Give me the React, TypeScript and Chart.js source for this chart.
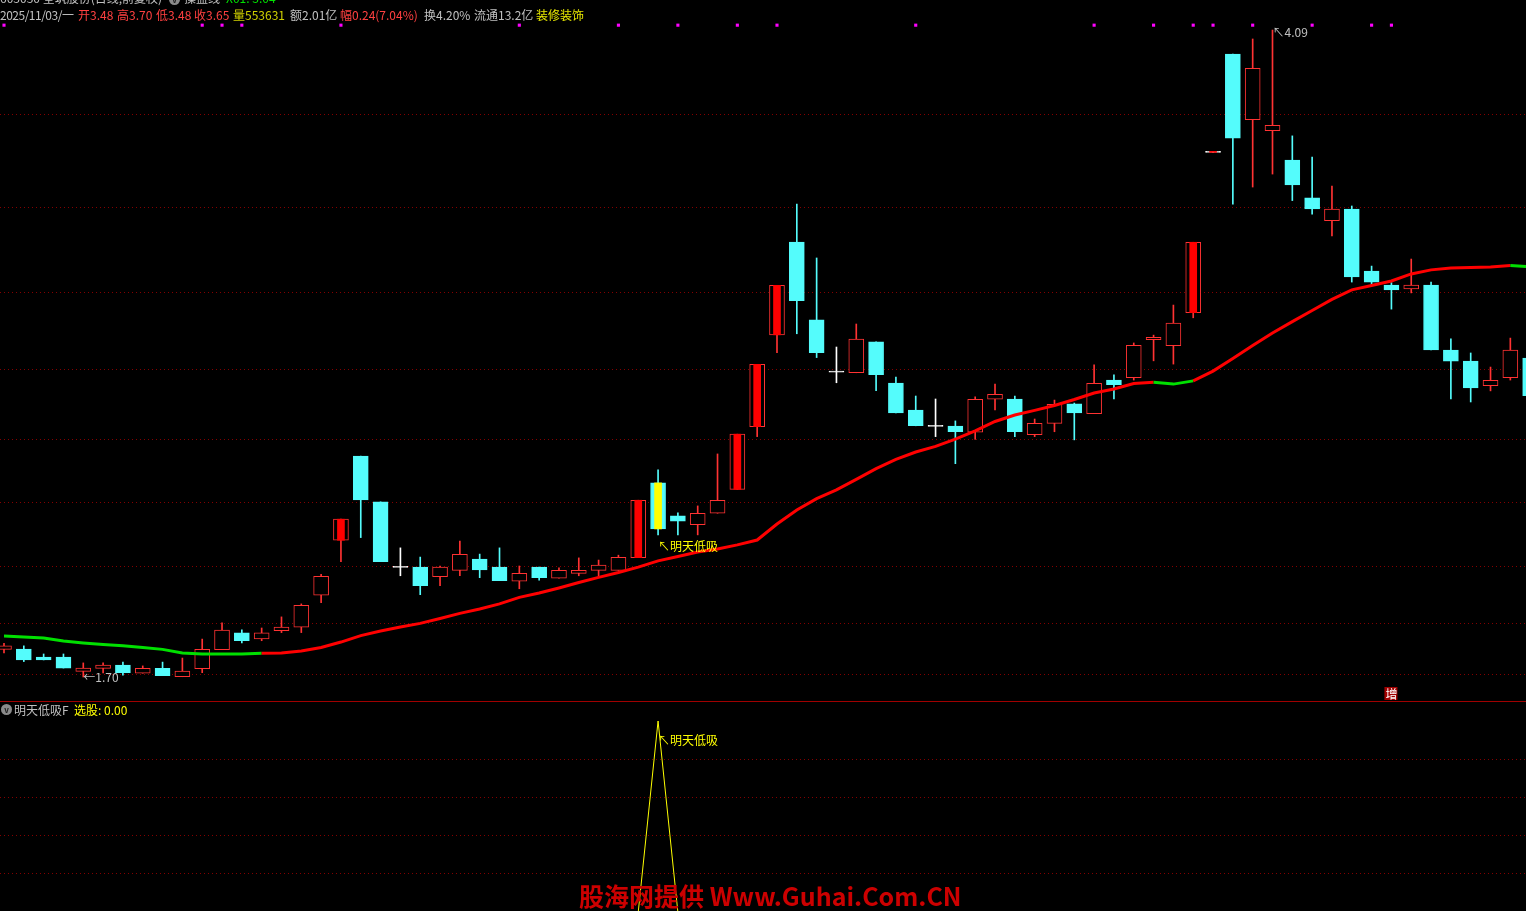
import React, { useEffect, useRef } from "react";
import { Chart, registerables } from "chart.js";

Chart.register(...registerables);

// ---------- data ----------
const OPEN = [
  1.802, 1.803, 1.774, 1.774, 1.721, 1.732, 1.744, 1.714, 1.732, 1.701,
  1.731, 1.801, 1.863, 1.841, 1.871, 1.884, 2.002, 2.205, 2.516, 2.347,
  2.105, 2.106, 2.071, 2.094, 2.136, 2.106, 2.054, 2.106, 2.065, 2.083,
  2.094, 2.094, 2.141, 2.417, 2.295, 2.263, 2.305, 2.393, 2.625, 2.964,
  3.307, 3.019, 2.826, 2.824, 2.938, 2.786, 2.686, 2.626, 2.627, 2.604,
  2.726, 2.727, 2.595, 2.637, 2.709, 2.673, 2.797, 2.806, 2.946, 2.924,
  3.046, 3.638, 4.001, 3.759, 3.718, 3.610, 3.470, 3.386, 3.429, 3.200,
  3.148, 3.134, 3.148, 2.908, 2.867, 2.776, 2.806, 2.878,
];
const HIGH = [
  1.824, 1.815, 1.785, 1.785, 1.752, 1.752, 1.755, 1.741, 1.755, 1.770,
  1.840, 1.900, 1.874, 1.881, 1.922, 1.970, 2.079, 2.283, 2.516, 2.347,
  2.177, 2.143, 2.110, 2.202, 2.154, 2.177, 2.110, 2.106, 2.103, 2.140,
  2.132, 2.150, 2.353, 2.465, 2.306, 2.332, 2.524, 2.597, 2.855, 3.147,
  3.447, 3.248, 2.919, 3.004, 2.938, 2.808, 2.738, 2.727, 2.646, 2.735,
  2.782, 2.738, 2.653, 2.723, 2.712, 2.853, 2.816, 2.934, 2.963, 3.074,
  3.306, 3.638, 4.001, 4.057, 4.090, 3.699, 3.621, 3.514, 3.440, 3.218,
  3.157, 3.244, 3.159, 2.949, 2.897, 2.845, 2.952, 2.878,
];
const LOW = [
  1.789, 1.757, 1.763, 1.733, 1.700, 1.715, 1.707, 1.714, 1.705, 1.701,
  1.716, 1.801, 1.826, 1.834, 1.864, 1.864, 1.975, 2.126, 2.215, 2.126,
  2.074, 2.004, 2.037, 2.074, 2.067, 2.056, 2.026, 2.058, 2.065, 2.074,
  2.074, 2.094, 2.141, 2.225, 2.225, 2.225, 2.305, 2.393, 2.588, 2.898,
  2.968, 2.880, 2.787, 2.824, 2.758, 2.676, 2.628, 2.588, 2.488, 2.578,
  2.687, 2.588, 2.588, 2.606, 2.576, 2.673, 2.727, 2.797, 2.868, 2.856,
  3.027, 3.638, 3.447, 3.510, 3.558, 3.460, 3.410, 3.329, 3.159, 3.148,
  3.059, 3.119, 2.908, 2.727, 2.716, 2.757, 2.797, 2.723,
];
const CLOSE = [
  1.815, 1.763, 1.763, 1.733, 1.733, 1.744, 1.716, 1.732, 1.705, 1.722,
  1.802, 1.873, 1.834, 1.863, 1.884, 1.965, 2.072, 2.283, 2.354, 2.126,
  2.105, 2.037, 2.106, 2.153, 2.096, 2.056, 2.083, 2.067, 2.094, 2.094,
  2.113, 2.142, 2.353, 2.247, 2.276, 2.305, 2.353, 2.597, 2.855, 3.147,
  3.090, 2.898, 2.826, 2.948, 2.817, 2.676, 2.628, 2.626, 2.606, 2.726,
  2.744, 2.606, 2.637, 2.707, 2.676, 2.785, 2.780, 2.925, 2.955, 3.007,
  3.306, 3.638, 3.691, 3.949, 3.738, 3.518, 3.429, 3.429, 3.178, 3.159,
  3.130, 3.148, 2.908, 2.867, 2.768, 2.796, 2.908, 2.739,
];
// 操盘线
const MA_LINE = [
  1.851, 1.848, 1.844, 1.833, 1.826, 1.820, 1.815, 1.809, 1.802, 1.789,
  1.785, 1.785, 1.785, 1.788, 1.789, 1.796, 1.809, 1.829, 1.853, 1.870,
  1.885, 1.898, 1.916, 1.935, 1.951, 1.970, 1.994, 2.010, 2.029, 2.049,
  2.068, 2.086, 2.106, 2.129, 2.145, 2.162, 2.173, 2.188, 2.206, 2.265,
  2.317, 2.359, 2.391, 2.430, 2.470, 2.504, 2.531, 2.552, 2.579, 2.609,
  2.644, 2.668, 2.685, 2.703, 2.725, 2.749, 2.764, 2.784, 2.789, 2.782,
  2.794, 2.830, 2.877, 2.925, 2.971, 3.013, 3.054, 3.095, 3.130, 3.146,
  3.163, 3.189, 3.204, 3.211, 3.213, 3.215, 3.220, 3.215,
];
// segments of 操盘线 drawn green: [from, to)
const MA_GREEN_RANGES: [number, number][] = [[0, 13], [58, 60], [76, 77]];
// candles with an inner stick (red) and the signal candle (yellow)
const RED_STICK = [17, 32, 37, 38, 39, 60, 61];
const YELLOW_STICK = [33];
// magenta signal squares along the top
const SIGNAL_DOTS = [0, 10, 11, 12, 17, 26, 31, 34, 37, 39, 46, 55, 58, 60, 61, 63, 66, 69, 70];
const SIGNAL_LEVEL = 4.108;
// 明天低吸F 选股
const SELECT = [
  0, 0, 0, 0, 0, 0, 0, 0, 0, 0,
  0, 0, 0, 0, 0, 0, 0, 0, 0, 0,
  0, 0, 0, 0, 0, 0, 0, 0, 0, 0,
  0, 0, 0, 1, 0, 0, 0, 0, 0, 0,
  0, 0, 0, 0, 0, 0, 0, 0, 0, 0,
  0, 0, 0, 0, 0, 0, 0, 0, 0, 0,
  0, 0, 0, 0, 0, 0, 0, 0, 0, 0,
  0, 0, 0, 0, 0, 0, 0, 0,
];
// grid levels
const GRID_PRICES = [1.711, 1.898, 2.110, 2.345, 2.578, 2.837, 3.121, 3.435, 3.779];
const SUB_GRID = [0.2, 0.4, 0.6, 0.8];

const HEADER1 = [
  { text: "603030 全筑股份(日线,前复权)", color: "#c0c0c0", x: 0 },
  { text: "操盘线", color: "#c0c0c0", x: 184 },
  { text: "X01: 3.04", color: "#00e000", x: 226 },
];
const HEADER2 = [
  { text: "2025/11/03/一", color: "#c0c0c0", x: 0 },
  { text: "开3.48", color: "#ff4040", x: 78 },
  { text: "高3.70", color: "#ff4040", x: 117 },
  { text: "低3.48", color: "#ff4040", x: 156 },
  { text: "收3.65", color: "#ff4040", x: 194 },
  { text: "量553631", color: "#d0d000", x: 233 },
  { text: "额2.01亿", color: "#c0c0c0", x: 290 },
  { text: "幅0.24(7.04%)", color: "#ff4040", x: 340 },
  { text: "换4.20%", color: "#c0c0c0", x: 424 },
  { text: "流通13.2亿", color: "#c0c0c0", x: 474 },
  { text: "装修装饰", color: "#e6e600", x: 536 },
];

// ---------- styling ----------
const UP = "#ff3232";
const DOWN = "#54fcfc";
const FLAT = "#ffffff";
const LINE_RED = "#ff0000";
const LINE_GREEN = "#00e000";
const GRID = "#840000";
const FONT = '"Noto Sans CJK SC", "Noto Sans", sans-serif';

const X_MIN = -0.2018;
const X_MAX = 76.79;
const IDX = OPEN.map((_, i) => i);

const kind = (i: number) => (CLOSE[i] > OPEN[i] ? "up" : CLOSE[i] < OPEN[i] ? "down" : "flat");
const colorOf = (i: number) => {
  const k = kind(i);
  return k === "up" ? UP : k === "down" ? DOWN : FLAT;
};
const isGreenSeg = (i: number) => MA_GREEN_RANGES.some(([a, b]) => i >= a && i < b);

type Note = { index: number; value: number; text: string; color: string; dx: number; dy: number };

function notesPlugin(notes: Note[], extra?: (chart: any) => void) {
  return {
    id: "notes",
    afterDatasetsDraw(chart: any) {
      const { ctx } = chart;
      const x = chart.scales.x;
      const y = chart.scales.y;
      ctx.save();
      ctx.font = `12px ${FONT}`;
      ctx.textBaseline = "middle";
      ctx.textAlign = "left";
      for (const n of notes) {
        ctx.fillStyle = n.color;
        ctx.fillText(n.text, x.getPixelForValue(n.index) + n.dx, y.getPixelForValue(n.value) + n.dy);
      }
      if (extra) extra(chart);
      ctx.restore();
    },
  };
}

const yGridScale = (min: number, max: number, ticks: number[]) => ({
  min,
  max,
  display: true,
  position: "left" as const,
  afterFit: (s: any) => {
    s.width = 0;
  },
  afterBuildTicks: (s: any) => {
    s.ticks = ticks.map((v) => ({ value: v }));
  },
  ticks: { display: false },
  grid: { color: GRID, lineWidth: 1, drawTicks: false },
  border: { display: false, dash: [1, 3] },
});

const xScale = {
  type: "linear" as const,
  min: X_MIN,
  max: X_MAX,
  offset: false,
  display: false,
  grid: { display: false },
};

export default function App() {
  const mainRef = useRef<HTMLCanvasElement>(null);
  const subRef = useRef<HTMLCanvasElement>(null);

  useEffect(() => {
    const mainNotes: Note[] = [
      { index: 4, value: LOW[4], text: "←" + LOW[4].toFixed(2), color: "#c0c0c0", dx: 0, dy: 0 },
      { index: 64, value: HIGH[64], text: "↖" + HIGH[64].toFixed(2), color: "#c0c0c0", dx: 0, dy: 2 },
      { index: 33, value: LOW[33], text: "↖明天低吸", color: "#ffff00", dx: 0, dy: 12 },
    ];
    const drawZeng = (chart: any) => {
      const { ctx } = chart;
      const px = chart.scales.x.getPixelForValue(70);
      const py = chart.chartArea.bottom - 8;
      ctx.fillStyle = "#a00000";
      ctx.fillRect(px - 7, py - 6, 13, 13);
      ctx.fillStyle = "#ffffff";
      ctx.textAlign = "center";
      ctx.fillText("增", px, py + 1);
    };

    const main = new Chart(mainRef.current as HTMLCanvasElement, {
      type: "bar",
      data: {
        datasets: [
          {
            type: "line",
            label: "操盘线",
            data: IDX.map((i) => ({ x: i, y: MA_LINE[i] })),
            borderWidth: 3,
            pointRadius: 0,
            tension: 0,
            borderColor: LINE_RED,
            segment: {
              borderColor: (ctx: any) => (isGreenSeg(ctx.p0DataIndex) ? LINE_GREEN : LINE_RED),
            },
            order: -1,
          } as any,
          {
            type: "scatter",
            label: "signal",
            data: SIGNAL_DOTS.map((i) => ({ x: i, y: SIGNAL_LEVEL })),
            pointStyle: "rect",
            pointRadius: 2.2,
            pointBackgroundColor: "#ff00ff",
            pointBorderWidth: 0,
            order: -2,
          } as any,
          {
            label: "stick",
            data: [...RED_STICK, ...YELLOW_STICK].map((i) => ({ x: i, y: [OPEN[i], CLOSE[i]] })),
            backgroundColor: [...RED_STICK.map(() => "#ff0000"), ...YELLOW_STICK.map(() => "#ffff00")],
            borderWidth: 0,
            barThickness: 7,
            minBarLength: 1,
            grouped: false,
            order: 0,
          } as any,
          {
            label: "body",
            data: IDX.map((i) => ({ x: i, y: [OPEN[i], CLOSE[i]] })),
            backgroundColor: IDX.map((i) => (kind(i) === "up" ? "#000000" : colorOf(i))),
            borderColor: IDX.map((i) => colorOf(i)),
            borderWidth: 1,
            borderSkipped: false,
            barThickness: 15,
            minBarLength: 1,
            grouped: false,
            order: 1,
          } as any,
          {
            label: "wick",
            data: IDX.map((i) => ({ x: i, y: [LOW[i], HIGH[i]] })),
            backgroundColor: IDX.map((i) => colorOf(i)),
            borderWidth: 0,
            barThickness: 1,
            minBarLength: 1,
            grouped: false,
            order: 2,
          } as any,
        ],
      },
      options: {
        responsive: false,
        maintainAspectRatio: false,
        devicePixelRatio: 1,
        animation: false,
        events: [],
        layout: { padding: 0, autoPadding: false },
        plugins: { legend: { display: false }, tooltip: { enabled: false }, title: { display: false } },
        scales: {
          x: xScale as any,
          y: yGridScale(1.6113, 4.201, GRID_PRICES) as any,
        },
      },
      plugins: [notesPlugin(mainNotes, drawZeng)],
    });

    const subNotes: Note[] = [
      { index: 33, value: SELECT[33], text: "↖明天低吸", color: "#ffff00", dx: 0, dy: 19 },
    ];
    const sub = new Chart(subRef.current as HTMLCanvasElement, {
      type: "line",
      data: {
        datasets: [
          {
            label: "选股",
            data: IDX.map((i) => ({ x: i, y: SELECT[i] })),
            borderColor: "#ffff00",
            borderWidth: 1,
            pointRadius: 0,
            tension: 0,
          },
        ],
      },
      options: {
        responsive: false,
        maintainAspectRatio: false,
        devicePixelRatio: 1,
        animation: false,
        events: [],
        layout: { padding: 0, autoPadding: false },
        plugins: { legend: { display: false }, tooltip: { enabled: false } },
        scales: {
          x: xScale as any,
          y: yGridScale(0.006, 1.0994, SUB_GRID) as any,
        },
      },
      plugins: [notesPlugin(subNotes)],
    });

    return () => {
      main.destroy();
      sub.destroy();
    };
  }, []);

  const span = (t: string, color: string, x: number, top: number, key: string, ls = 0) => (
    <span
      key={key}
      style={{
        position: "absolute",
        left: x,
        top,
        color,
        fontSize: 12,
        lineHeight: "14px",
        letterSpacing: ls,
        whiteSpace: "nowrap",
      }}
    >
      {t}
    </span>
  );

  const icon = (x: number, top: number) => (
    <span
      style={{
        position: "absolute",
        left: x,
        top,
        width: 11,
        height: 11,
        borderRadius: "50%",
        background: "#8a8a8a",
        color: "#202020",
        fontSize: 8,
        lineHeight: "11px",
        textAlign: "center",
        fontWeight: "bold",
      }}
    >
      v
    </span>
  );

  return (
    <div
      style={{
        position: "fixed",
        left: 0,
        top: 0,
        width: 1526,
        height: 911,
        background: "#000",
        overflow: "hidden",
        fontFamily: FONT,
      }}
    >
      <canvas
        ref={mainRef}
        width={1526}
        height={701}
        style={{ position: "absolute", left: 0, top: 0, width: 1526, height: 701 }}
      />
      <div style={{ position: "absolute", left: 0, top: 701, width: 1526, height: 1, background: "#a00000" }} />
      <canvas
        ref={subRef}
        width={1526}
        height={209}
        style={{ position: "absolute", left: 0, top: 702, width: 1526, height: 209 }}
      />
      {HEADER1.map((h, k) => span(h.text, h.color, h.x, -9, "h1" + k))}
      {icon(169, -6)}
      {HEADER2.map((h, k) => span(h.text, h.color, h.x, 8, "h2" + k, k === 0 ? -0.5 : 0))}
      {icon(1, 704)}
      {span("明天低吸F", "#c0c0c0", 14, 703, "s1")}
      {span("选股: 0.00", "#ffff00", 74, 703, "s2")}
      <span
        style={{
          position: "absolute",
          left: 579,
          top: 881,
          color: "#cc0000",
          fontSize: 25,
          fontWeight: "bold",
          lineHeight: "28px",
          whiteSpace: "nowrap",
        }}
      >
        股海网提供 Www.Guhai.Com.CN
      </span>
    </div>
  );
}
